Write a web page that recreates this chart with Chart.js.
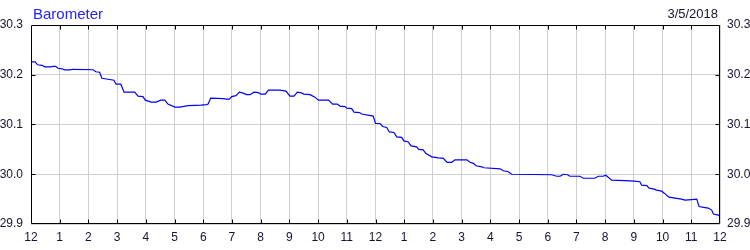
<!DOCTYPE html>
<html>
<head>
<meta charset="utf-8">
<script src="https://cdn.jsdelivr.net/npm/chart.js@4.4.1/dist/chart.umd.min.js"></script>
<style>
html,body{margin:0;padding:0;background:#fff;overflow:hidden;}
canvas{display:block;}
</style>
</head>
<body>
<canvas id="c" width="750" height="250"></canvas>
<script>
// ---- data ----
const chartTitle = "Barometer";
const chartDate = "3/5/2018";
const hourLabels = ["12","1","2","3","4","5","6","7","8","9","10","11","12","1","2","3","4","5","6","7","8","9","10","11","12"];
const yTicks = [29.9, 30.0, 30.1, 30.2, 30.3];
// time in hours since midnight
const times = [0,0.14,0.23,0.38,0.48,0.69,0.77,0.86,0.94,1.08,1.17,1.36,1.46,2.16,2.26,2.39,2.47,2.68,2.89,2.96,
3.13,3.24,3.61,3.73,3.90,3.98,4.19,4.36,4.52,4.66,4.77,5.01,5.18,5.47,5.92,6.12,6.17,6.26,6.70,6.82,
6.91,6.99,7.14,7.26,7.39,7.51,7.63,7.77,7.92,8.01,8.16,8.27,8.67,8.88,9.02,9.16,9.28,9.39,9.51,9.72,
9.89,10.01,10.36,10.51,10.67,10.76,10.94,11.00,11.17,11.25,11.44,11.52,11.92,12.00,12.16,12.25,12.39,12.48,12.64,12.74,
12.91,12.99,13.14,13.24,13.43,13.51,13.66,13.75,13.96,14.19,14.36,14.50,14.65,14.77,15.18,15.29,15.41,15.50,15.70,15.78,
16.34,16.45,16.63,16.74,18.14,18.31,18.43,18.54,18.69,18.77,19.12,19.24,19.64,19.76,19.93,20.02,20.23,20.69,21.01,21.21,
21.27,21.45,21.53,21.71,21.79,21.97,22.06,22.22,22.43,22.66,22.78,23.01,23.19,23.27,23.48,23.59,23.71,23.77,23.94,24.0];
// pressure in inHg
const pressure = [30.226,30.226,30.220,30.219,30.216,30.216,30.217,30.217,30.213,30.212,30.210,30.210,30.211,30.210,30.206,30.205,30.193,30.191,30.189,30.181,
30.181,30.165,30.165,30.157,30.156,30.149,30.145,30.145,30.149,30.149,30.141,30.135,30.135,30.138,30.139,30.140,30.141,30.153,30.152,30.151,
30.151,30.156,30.158,30.165,30.163,30.160,30.160,30.165,30.164,30.161,30.161,30.169,30.169,30.167,30.157,30.157,30.165,30.164,30.161,30.160,
30.155,30.149,30.149,30.141,30.141,30.137,30.136,30.133,30.132,30.125,30.124,30.121,30.117,30.102,30.102,30.096,30.094,30.085,30.084,30.075,
30.074,30.067,30.065,30.057,30.055,30.050,30.049,30.042,30.035,30.033,30.032,30.024,30.024,30.029,30.029,30.024,30.022,30.017,30.015,30.013,
30.011,30.007,30.005,30.000,29.999,29.996,29.996,30.000,29.999,29.996,29.996,29.992,29.992,29.996,29.996,29.998,29.988,29.987,29.986,29.985,
29.978,29.977,29.972,29.970,29.968,29.966,29.962,29.954,29.952,29.950,29.948,29.949,29.950,29.935,29.933,29.932,29.928,29.920,29.918,29.915];

const points = times.map((t, i) => ({x: t, y: pressure[i]}));
const FONT = "'Liberation Sans', Arial, sans-serif";
const TEXT = "#141430";

const framePlugin = {
  id: 'frame',
  afterDraw(chart) {
    const {ctx, chartArea: a, scales} = chart;
    ctx.save();
    ctx.strokeStyle = '#000';
    ctx.lineWidth = 1;
    ctx.beginPath();
    const L = Math.round(a.left) + 0.5, R = Math.round(a.right) - 0.5;
    const T = Math.round(a.top) + 0.5, B = Math.round(a.bottom) - 0.5;
    ctx.rect(L, T, R - L, B - T);
    // inward ticks
    const tl = 4;
    for (let h = 1; h < hourLabels.length - 1; h++) {
      const x = Math.round(scales.x.getPixelForValue(h)) + 0.5;
      ctx.moveTo(x, B); ctx.lineTo(x, B - tl);
      ctx.moveTo(x, T); ctx.lineTo(x, T + tl);
    }
    yTicks.slice(1, -1).forEach(v => {
      const y = Math.round(scales.y.getPixelForValue(v)) + 0.5;
      ctx.moveTo(L, y); ctx.lineTo(L + tl, y);
      ctx.moveTo(R, y); ctx.lineTo(R - tl, y);
    });
    ctx.stroke();
    // title and date
    ctx.textBaseline = 'alphabetic';
    ctx.font = '15px ' + FONT;
    ctx.fillStyle = '#2222ff';
    ctx.textAlign = 'left';
    ctx.fillText(chartTitle, 33, 18.5);
    ctx.font = '13px ' + FONT;
    ctx.fillStyle = TEXT;
    ctx.textAlign = 'right';
    ctx.fillText(chartDate, 718, 17.5);
    ctx.restore();
  }
};

new Chart(document.getElementById('c'), {
  type: 'scatter',
  data: {
    datasets: [{
      data: points,
      showLine: true,
      borderColor: '#0000ff',
      borderWidth: 1.2,
      pointRadius: 0,
      tension: 0,
      fill: false
    }]
  },
  options: {
    responsive: false,
    animation: false,
    devicePixelRatio: 1,
    layout: {padding: {top: 25, left: 0, right: 0, bottom: 0}},
    plugins: {legend: {display: false}, tooltip: {enabled: false}, title: {display: false}},
    scales: {
      x: {
        type: 'linear', min: 0, max: 24,
        afterFit(s) { s.height = 26; },
        ticks: {stepSize: 1, autoSkip: false, maxRotation: 0, padding: 6,
          color: TEXT, font: {family: FONT, size: 12},
          callback: v => hourLabels[Math.round(v)] },
        grid: {color: '#d0d0d0', lineWidth: 1, drawTicks: false},
        border: {display: false}
      },
      y: {
        type: 'linear', position: 'left', min: 29.9, max: 30.3,
        afterFit(s) { s.width = 31; },
        afterBuildTicks(s) { s.ticks = yTicks.map(v => ({value: v})); },
        ticks: {padding: 8, color: TEXT, font: {family: FONT, size: 12},
          callback: v => Number(v).toFixed(1)},
        grid: {color: '#d0d0d0', lineWidth: 1, drawTicks: false},
        border: {display: false}
      },
      y2: {
        type: 'linear', position: 'right', min: 29.9, max: 30.3,
        afterFit(s) { s.width = 30; },
        afterBuildTicks(s) { s.ticks = yTicks.map(v => ({value: v})); },
        ticks: {padding: 7, color: TEXT, font: {family: FONT, size: 12},
          callback: v => Number(v).toFixed(1)},
        grid: {display: false, drawTicks: false},
        border: {display: false}
      }
    }
  },
  plugins: [framePlugin]
});
</script>
</body>
</html>
